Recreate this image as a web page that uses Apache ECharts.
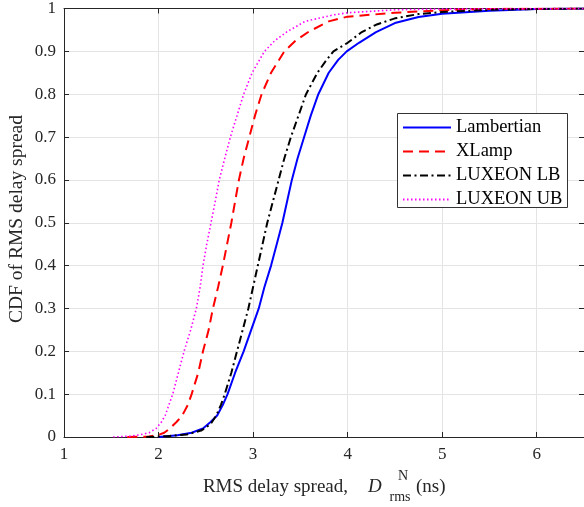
<!DOCTYPE html>
<html>
<head>
<meta charset="utf-8">
<script src="https://cdn.jsdelivr.net/npm/echarts@6/dist/echarts.min.js"></script>
<style>
html,body{margin:0;padding:0;background:#fff;}
#c{width:584px;height:507px;}
</style>
</head>
<body>
<div id="c"></div>
<script>
var seriesNames = ['Lambertian', 'XLamp', 'LUXEON LB', 'LUXEON UB'];

var lambX = [2.00, 2.20, 2.35, 2.47, 2.55, 2.62, 2.68, 2.73, 2.81, 2.90, 2.98, 3.06, 3.12, 3.19, 3.25, 3.31, 3.36, 3.41, 3.47, 3.54, 3.61, 3.69, 3.80, 3.90, 3.99, 4.12, 4.30, 4.50, 4.75, 5.00, 5.50, 6.00, 6.50];
var lambY = [0, 0.004, 0.01, 0.02, 0.035, 0.05, 0.075, 0.1, 0.15, 0.2, 0.25, 0.3, 0.35, 0.4, 0.45, 0.5, 0.55, 0.6, 0.65, 0.7, 0.75, 0.8, 0.85, 0.88, 0.9, 0.92, 0.945, 0.966, 0.98, 0.988, 0.995, 0.999, 1.0];

var xlampX = [1.67, 1.90, 2.00, 2.06, 2.12, 2.19, 2.25, 2.31, 2.35, 2.42, 2.47, 2.53, 2.575, 2.63, 2.68, 2.725, 2.77, 2.81, 2.85, 2.90, 2.96, 3.02, 3.09, 3.19, 3.33, 3.45, 3.59, 3.80, 4.00, 4.50, 5.00, 5.50, 6.50];
var xlampY = [0, 0.001, 0.005, 0.01, 0.02, 0.035, 0.05, 0.075, 0.1, 0.15, 0.2, 0.25, 0.3, 0.35, 0.4, 0.45, 0.5, 0.55, 0.6, 0.65, 0.7, 0.75, 0.8, 0.85, 0.9, 0.925, 0.946, 0.97, 0.981, 0.99, 0.996, 0.999, 1.0];

var lbX = [1.87, 2.10, 2.30, 2.45, 2.55, 2.61, 2.66, 2.70, 2.77, 2.83, 2.89, 2.95, 3.00, 3.05, 3.10, 3.15, 3.21, 3.27, 3.33, 3.40, 3.48, 3.56, 3.68, 3.76, 3.85, 4.00, 4.15, 4.30, 4.50, 4.75, 5.00, 5.50, 6.00, 6.50];
var lbY = [0, 0.002, 0.006, 0.015, 0.03, 0.05, 0.075, 0.1, 0.15, 0.2, 0.25, 0.3, 0.35, 0.4, 0.45, 0.5, 0.55, 0.6, 0.65, 0.7, 0.75, 0.8, 0.85, 0.875, 0.9, 0.92, 0.945, 0.962, 0.977, 0.987, 0.992, 0.997, 0.999, 1.0];

var ubX = [1.52, 1.70, 1.80, 1.90, 1.975, 2.03, 2.07, 2.11, 2.15, 2.21, 2.27, 2.34, 2.40, 2.44, 2.47, 2.51, 2.555, 2.60, 2.642, 2.70, 2.76, 2.83, 2.90, 2.99, 3.12, 3.23, 3.36, 3.55, 3.85, 4.00, 4.50, 5.00, 6.50];
var ubY = [0, 0.002, 0.005, 0.01, 0.02, 0.035, 0.05, 0.075, 0.1, 0.15, 0.2, 0.25, 0.3, 0.35, 0.4, 0.45, 0.5, 0.55, 0.6, 0.65, 0.7, 0.75, 0.8, 0.85, 0.9, 0.925, 0.946, 0.97, 0.985, 0.99, 0.997, 0.999, 1.0];

function pairs(xs, ys) { return xs.map(function (x, i) { return [x, ys[i]]; }); }

var FONT = '"Liberation Serif", "Times New Roman", serif';
var AX = '#262626';
var GRIDC = '#e4e4e4';

var chart = echarts.init(document.getElementById('c'), null, {renderer: 'canvas'});

var baseX = {
  type: 'value', min: 1, max: 6.5, interval: 1,
  axisLine: {show: true, onZero: false, lineStyle: {color: AX, width: 1}},
  axisTick: {show: true, inside: true, length: 5, lineStyle: {color: AX}},
  splitLine: {show: false}
};
var baseY = {
  type: 'value', min: 0, max: 1, interval: 0.1,
  axisLine: {show: true, onZero: false, lineStyle: {color: AX, width: 1}},
  axisTick: {show: true, inside: true, length: 5, lineStyle: {color: AX}},
  splitLine: {show: false}
};

function mkSeries(name, xs, ys, color, type, width) {
  return {
    name: name, type: 'line', xAxisIndex: 0, yAxisIndex: 0,
    data: pairs(xs, ys), showSymbol: false, symbol: 'none',
    lineStyle: {color: color, width: width, type: type, cap: 'butt'},
    itemStyle: {color: color},
    animation: false, z: 5
  };
}

chart.setOption({
  animation: false,
  backgroundColor: '#ffffff',
  grid: {left: 64, top: 7, width: 523, height: 430, containLabel: false},
  xAxis: [
    Object.assign({}, baseX, {
      position: 'bottom',
      axisLabel: {show: true, showMaxLabel: false, margin: 9, color: AX, fontFamily: FONT, fontSize: 17},
      splitLine: {show: true, lineStyle: {color: GRIDC, width: 1}}
    }),
    Object.assign({}, baseX, {position: 'top', axisLabel: {show: false}})
  ],
  yAxis: [
    Object.assign({}, baseY, {
      position: 'left',
      axisLabel: {show: true, margin: 8, color: AX, fontFamily: FONT, fontSize: 17},
      splitLine: {show: true, lineStyle: {color: GRIDC, width: 1}}
    }),
    Object.assign({}, baseY, {position: 'right', axisLabel: {show: false}})
  ],
  legend: {
    show: true, orient: 'vertical', left: 398, top: 114,
    padding: [4, 4, 4, 4], itemGap: 5, itemWidth: 48, itemHeight: 18,
    itemStyle: {opacity: 0},
    textStyle: {fontFamily: FONT, fontSize: 18.5, color: '#000', lineHeight: 18},
    data: seriesNames, z: 20
  },
  graphic: [
    {type: 'rect', z: 15, shape: {x: 397.5, y: 113.5, width: 170, height: 94},
     style: {fill: '#fff', stroke: '#333', lineWidth: 1}},
    {type: 'text', x: 17, y: 219, rotation: Math.PI / 2, z: 10,
     style: {text: 'CDF of RMS delay spread', font: '19.5px ' + FONT, fill: AX, textAlign: 'center', textVerticalAlign: 'middle'}},
    {type: 'text', x: 348, y: 487, z: 10,
     style: {text: 'RMS delay spread,', font: '19px ' + FONT, fill: AX, textAlign: 'right', textVerticalAlign: 'middle'}},
    {type: 'text', x: 368, y: 487, z: 10,
     style: {text: 'D', font: 'italic 19px ' + FONT, fill: AX, textAlign: 'left', textVerticalAlign: 'middle'}},
    {type: 'text', x: 403, y: 476, z: 10,
     style: {text: 'N', font: '14px ' + FONT, fill: AX, textAlign: 'center', textVerticalAlign: 'middle'}},
    {type: 'text', x: 400, y: 497, z: 10,
     style: {text: 'rms', font: '14px ' + FONT, fill: AX, textAlign: 'center', textVerticalAlign: 'middle'}},
    {type: 'text', x: 416, y: 487, z: 10,
     style: {text: '(ns)', font: '19px ' + FONT, fill: AX, textAlign: 'left', textVerticalAlign: 'middle'}}
  ],
  series: [
    mkSeries(seriesNames[0], lambX, lambY, '#0000ff', 'solid', 2),
    mkSeries(seriesNames[1], xlampX, xlampY, '#ff0000', [10, 6], 2),
    mkSeries(seriesNames[2], lbX, lbY, '#000000', [8, 3.5, 2, 3.5], 2),
    mkSeries(seriesNames[3], ubX, ubY, '#ff00ff', [1.5, 2.5], 1.6)
  ]
});
</script>
</body>
</html>
